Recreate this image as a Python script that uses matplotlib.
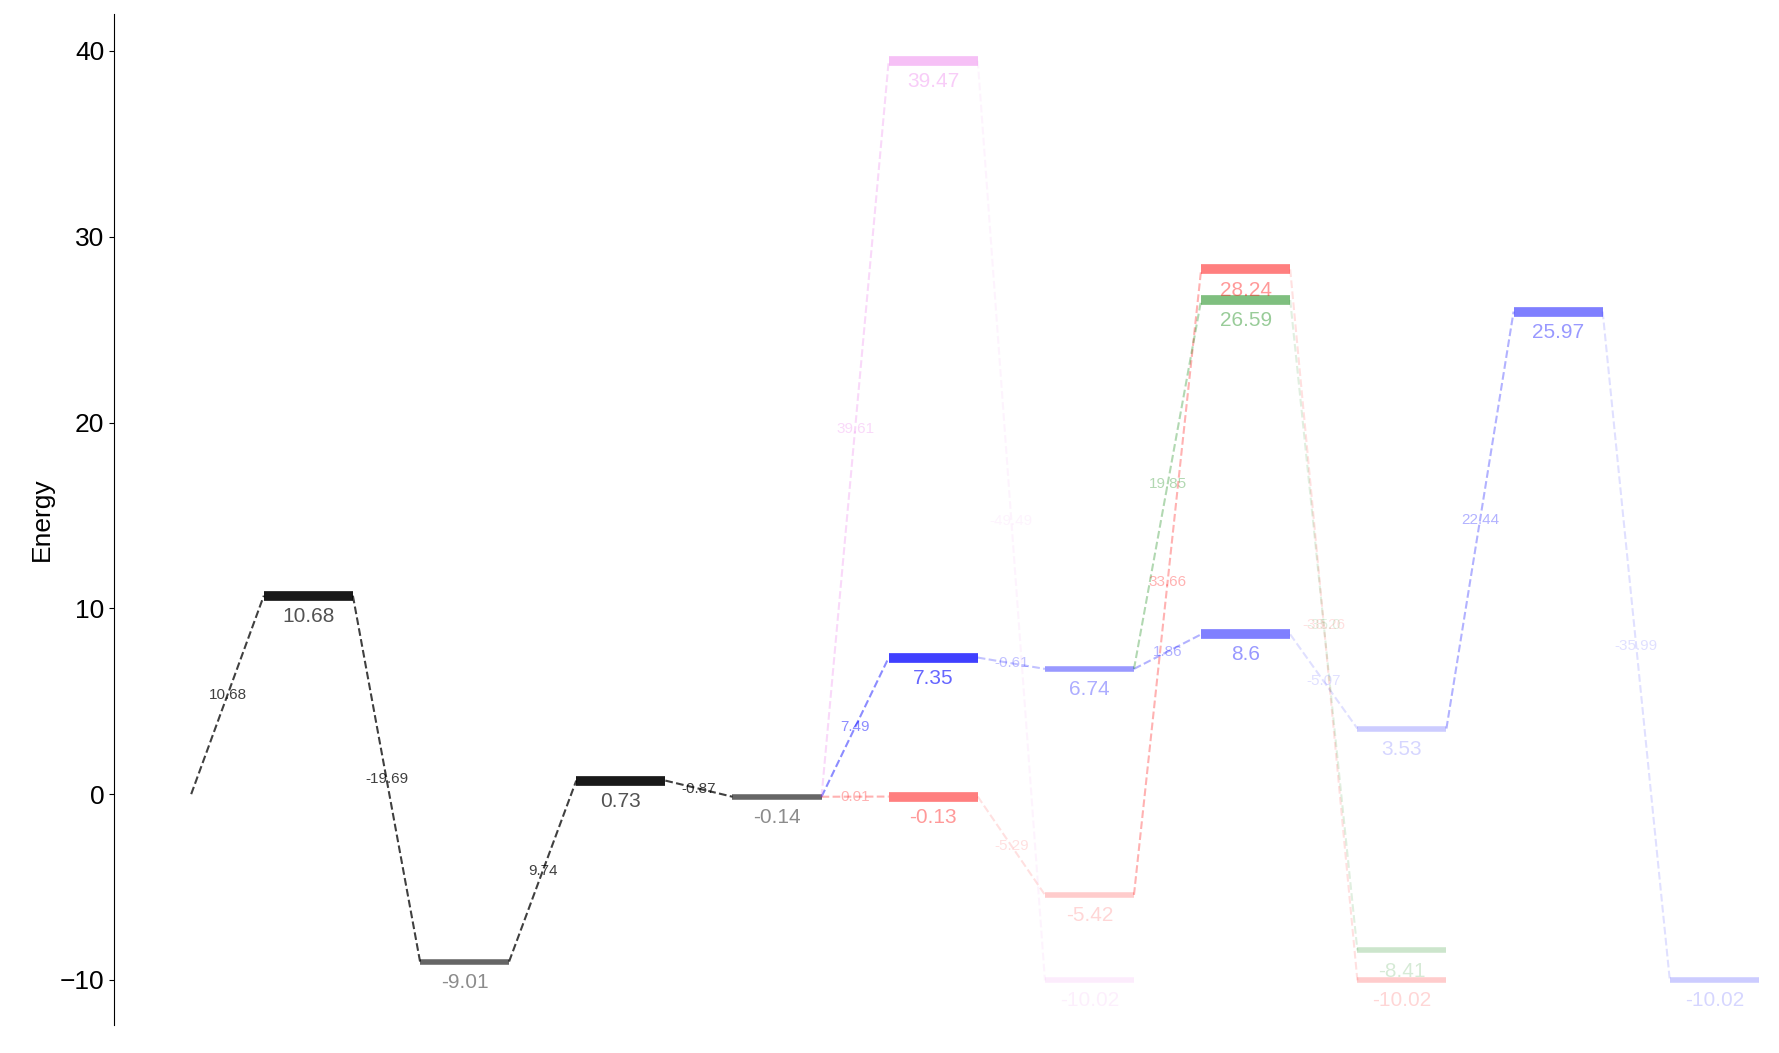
import matplotlib.pyplot as plt

plt.rcParams['font.family'] = ['Liberation Sans', 'DejaVu Sans']

# levels: (x position, energy, colour, alpha, line width)
lvl_x = [1, 2, 3, 4, 5, 6, 7, 8, 9, 10, 5, 6, 7, 8, 7, 8, 5, 6]
lvl_e = [10.68, -9.01, 0.73, -0.14, 7.35, 6.74, 8.6, 3.53, 25.97, -10.02,
         -0.13, -5.42, 28.24, -10.02, 26.59, -8.41, 39.47, -10.02]
lvl_c = ['black', 'black', 'black', 'black', 'blue', 'blue', 'blue', 'blue', 'blue', 'blue',
         'red', 'red', 'red', 'red', 'green', 'green', 'violet', 'violet']
lvl_a = [0.9, 0.6, 0.9, 0.6, 0.75, 0.4, 0.5, 0.2, 0.5, 0.2,
         0.5, 0.2, 0.5, 0.2, 0.5, 0.2, 0.5, 0.15]
lvl_w = [7, 4, 7, 4, 7, 4, 7, 4, 7, 4, 7, 4, 7, 4, 7, 4, 7, 4]

# connections between levels (index pairs, -1 = start point at 0)
links = [(-1, 0), (0, 1), (1, 2), (2, 3), (3, 4), (4, 5), (5, 6), (6, 7), (7, 8), (8, 9),
         (3, 10), (10, 11), (11, 12), (12, 13), (5, 14), (14, 15), (3, 16), (16, 17)]

half = 0.285
start_x, start_e = 0.25, 0.0

fig, ax = plt.subplots(figsize=(17.79, 10.53), dpi=100)
plt.subplots_adjust(left=0.064, right=0.99, top=0.987, bottom=0.027)

for x, e, c, a, w in zip(lvl_x, lvl_e, lvl_c, lvl_a, lvl_w):
    ax.plot([x - half, x + half], [e, e], color=c, alpha=a, lw=w, solid_capstyle='butt')
    ta = a * 0.75 if c == 'black' else a * 0.8
    ax.text(x, e - 0.6, f'{e}', color=c, alpha=ta, ha='center', va='top', fontsize=15)

for i, j in links:
    x0, e0 = (start_x, start_e) if i < 0 else (lvl_x[i] + half, lvl_e[i])
    x1, e1 = lvl_x[j] - half, lvl_e[j]
    c, a = lvl_c[j], lvl_a[j]
    a = 0.75 if c == 'black' else a * 0.6
    ax.plot([x0, x1], [e0, e1], '--', color=c, alpha=a, lw=1.5)
    d = round(e1 - e0, 2)
    ax.text((x0 + x1) / 2, (e0 + e1) / 2, f'{d}', color=c, alpha=a,
            ha='center', va='center', fontsize=11)

ax.set_xlim(-0.245, 10.3)
ax.set_ylim(-12.4, 42)
ax.set_xticks([])
ax.set_yticks([-10, 0, 10, 20, 30, 40])
ax.tick_params(axis='y', labelsize=19)
ax.set_ylabel('Energy', fontsize=19)
for s in ['top', 'right', 'bottom']:
    ax.spines[s].set_visible(False)

plt.savefig('out.png')
